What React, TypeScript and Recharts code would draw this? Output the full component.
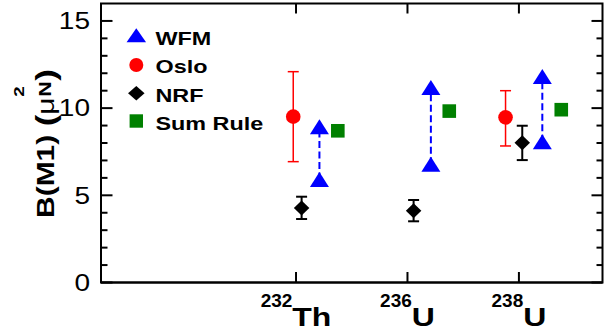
import React from 'react';
import {
  ScatterChart,
  Scatter,
  XAxis,
  YAxis,
  ErrorBar,
  ReferenceLine,
  Customized,
} from 'recharts';

// ---- data ----
const xDomain = [0.25, 4.75];
const yDomain = [0, 16];
const tickPositions = [2, 3, 4];
const tickMass = ['232', '236', '238'];
const tickSymbol = ['Th', 'U', 'U'];
const yTicks = [0, 1, 2, 3, 4, 5, 6, 7, 8, 9, 10, 11, 12, 13, 14, 15];
const yMajor = [0, 5, 10, 15];

const wfmX = [2.21, 3.21, 4.21];
const wfmLow = [5.9, 6.78, 8.07];
const wfmHigh = [8.93, 11.18, 11.82];

const osloX = [1.975, 3.88];
const osloY = [9.51, 9.47];
const osloLow = [6.93, 7.83];
const osloHigh = [12.09, 11.0];

const nrfX = [2.05, 3.055, 4.03];
const nrfY = [4.27, 4.12, 8.01];
const nrfLow = [3.64, 3.51, 7.02];
const nrfHigh = [4.92, 4.73, 8.99];

const sumX = [2.375, 3.375, 4.38];
const sumY = [8.7, 9.83, 9.91];

const legendNames = ['WFM', 'Oslo', 'NRF', 'Sum Rule'];
const legendColors = ['#0000ff', '#ff0000', '#000000', '#008000'];

// ---- derived tables ----
const wfmData = wfmX.flatMap((x, i) => [
  { x, y: wfmLow[i] },
  { x, y: wfmHigh[i] },
]);
const osloData = osloX.map((x, i) => ({
  x,
  y: osloY[i],
  err: [osloY[i] - osloLow[i], osloHigh[i] - osloY[i]],
}));
const nrfData = nrfX.map((x, i) => ({
  x,
  y: nrfY[i],
  err: [nrfY[i] - nrfLow[i], nrfHigh[i] - nrfY[i]],
}));
const sumData = sumX.map((x, i) => ({ x, y: sumY[i] }));

// ---- layout ----
const W = 611;
const H = 333;
const MARGIN = { top: 3.5, right: 8.5, bottom: 0.5, left: 41 };
const Y_AXIS_W = 60;
const X_AXIS_H = 50;
const PLOT_X = MARGIN.left + Y_AXIS_W;
const PLOT_Y = MARGIN.top;
const PLOT_W = W - MARGIN.left - MARGIN.right - Y_AXIS_W;
const PLOT_H = H - MARGIN.top - MARGIN.bottom - X_AXIS_H;

const FONT = '"Liberation Sans", Arial, Helvetica, sans-serif';

const CHAR_W: Record<string, number> = { T: 0.611, h: 0.611, U: 0.722 };
const textW = (s: string, size: number, scale: number) =>
  s.split('').reduce((a, c) => a + (CHAR_W[c] ?? 0.556), 0) * size * scale;

// ---- marker shapes ----
const triPath = (cx: number, cy: number, w = 19, h = 15) =>
  `${cx},${cy - h / 2} ${cx + w / 2},${cy + h / 2} ${cx - w / 2},${cy + h / 2}`;
const Tri = (p: any) => <polygon points={triPath(p.cx, p.cy)} fill="#0000ff" />;
const Circ = (p: any) => <circle cx={p.cx} cy={p.cy} r={7.3} fill="#ff0000" />;
const diaPath = (cx: number, cy: number, w = 15.5, h = 15) =>
  `${cx},${cy - h / 2} ${cx + w / 2},${cy} ${cx},${cy + h / 2} ${cx - w / 2},${cy}`;
const Dia = (p: any) => <polygon points={diaPath(p.cx, p.cy)} fill="#000" />;
const Sq = (p: any) => (
  <rect x={p.cx - 6.8} y={p.cy - 6.8} width={13.6} height={13.6} fill="#008000" />
);

// ---- axis ticks (left + mirrored right, bottom + mirrored top) ----
const LeftTick = (p: any) => {
  const { x, y, payload } = p;
  const v = payload.value;
  const major = yMajor.includes(v);
  const xr = x + PLOT_W;
  return (
    <g>
      <line x1={x} x2={x + (major ? 11.5 : 6.5)} y1={y} y2={y} stroke="#000" strokeWidth={2} />
      <line x1={xr} x2={xr - (major ? 11 : 6)} y1={y} y2={y} stroke="#000" strokeWidth={2} />
      {major && (
        <text
          transform={`translate(${x - 11},${y + 8.3}) scale(1.22,1)`}
          textAnchor="end"
          fontSize={23}
          fontFamily={FONT}
          fill="#000"
        >
          {v}
        </text>
      )}
    </g>
  );
};
const SUP_SIZE = 19;
const MAIN_SIZE = 25;
const MAIN_SCALE = 1.28;
const BottomTick = (p: any) => {
  const { x, y, index } = p;
  const supW = textW(tickMass[index], SUP_SIZE, 1);
  const mainW = textW(tickSymbol[index], MAIN_SIZE, MAIN_SCALE);
  const left = x - (supW + mainW) / 2;
  const yt = y - PLOT_H;
  return (
    <g>
      <line x1={x} x2={x} y1={y} y2={y - 10.5} stroke="#000" strokeWidth={2} />
      <line x1={x} x2={x} y1={yt} y2={yt + 10} stroke="#000" strokeWidth={2} />
      <text x={left} y={y + 24.2} fontSize={SUP_SIZE} fontFamily={FONT} fontWeight="bold" fill="#000">
        {tickMass[index]}
      </text>
      <text
        transform={`translate(${left + supW},${y + 43.2}) scale(${MAIN_SCALE},1)`}
        fontSize={MAIN_SIZE}
        fontFamily={FONT}
        fontWeight="bold"
        fill="#000"
      >
        {tickSymbol[index]}
      </text>
    </g>
  );
};

// ---- frame, y label, legend ----
const Extras = () => {
  const rowsY = [45, 73.3, 101.7, 130];
  const markY = [35.3, 65, 93.3, 121];
  const mx = 136.3;
  const markers = [
    <polygon key="m0" points={triPath(mx, markY[0], 19.5, 14)} fill={legendColors[0]} />,
    <circle key="m1" cx={mx} cy={markY[1]} r={7} fill={legendColors[1]} />,
    <polygon key="m2" points={diaPath(mx, markY[2], 16.5, 14.5)} fill={legendColors[2]} />,
    <rect key="m3" x={mx - 6.7} y={markY[3] - 6.7} width={13.4} height={13.4} fill={legendColors[3]} />,
  ];
  // local advances along the (rotated) label
  const openX = 3.055 * 24; // after "B(M1) "
  const muX = openX + 0.333 * 28;
  const scriptX = muX + 0.576 * 24 + 0.5;
  const closeX = scriptX + 0.722 * 17 + 0.5;
  return (
    <g>
      <rect x={PLOT_X} y={PLOT_Y} width={PLOT_W} height={PLOT_H} fill="none" stroke="#000" strokeWidth={2} />
      <g transform="translate(53.5,218) rotate(-90) scale(1.25,1)" fontFamily={FONT} fill="#000">
        <text x={0} y={0} fontWeight="bold" fontSize={24}>
          B(M1)
        </text>
        <text x={openX} y={1} fontWeight="bold" fontSize={28}>
          (
        </text>
        <text x={muX} y={0} fontSize={24}>
          μ
        </text>
        <text x={scriptX} y={-30} fontWeight="bold" fontSize={15}>
          2
        </text>
        <text x={scriptX} y={-3} fontWeight="bold" fontSize={17}>
          N
        </text>
        <text x={closeX} y={1} fontWeight="bold" fontSize={28}>
          )
        </text>
      </g>
      {legendNames.map((n, i) => (
        <g key={n}>
          {markers[i]}
          <text
            transform={`translate(155.5,${rowsY[i]}) scale(1.23,1)`}
            fontFamily={FONT}
            fontWeight="bold"
            fontSize={19}
            fill="#000"
          >
            {n}
          </text>
        </g>
      ))}
    </g>
  );
};

export default function App() {
  return (
    <div style={{ position: 'absolute', left: 0, top: 0, background: '#fff' }}>
      <ScatterChart width={W} height={H} margin={MARGIN}>
        <XAxis
          dataKey="x"
          type="number"
          domain={xDomain}
          ticks={tickPositions}
          interval={0}
          height={X_AXIS_H}
          axisLine={{ stroke: '#000', strokeWidth: 2 }}
          tickLine={false}
          tickSize={0}
          tickMargin={0}
          tick={<BottomTick />}
        />
        <YAxis
          dataKey="y"
          type="number"
          domain={yDomain}
          ticks={yTicks}
          interval={0}
          width={Y_AXIS_W}
          axisLine={{ stroke: '#000', strokeWidth: 2 }}
          tickLine={false}
          tickSize={0}
          tickMargin={0}
          tick={<LeftTick />}
        />
        {wfmX.map((x, i) => (
          <ReferenceLine
            key={`d${i}`}
            segment={[
              { x, y: wfmLow[i] },
              { x, y: wfmHigh[i] },
            ]}
            stroke="#0000ff"
            strokeWidth={2}
            strokeDasharray="7 3.5"
          />
        ))}
        <Scatter data={osloData} shape={<Circ />} isAnimationActive={false}>
          <ErrorBar dataKey="err" direction="y" stroke="#ff0000" strokeWidth={1.5} width={5.5} />
        </Scatter>
        <Scatter data={nrfData} shape={<Dia />} isAnimationActive={false}>
          <ErrorBar dataKey="err" direction="y" stroke="#000" strokeWidth={2} width={5.5} />
        </Scatter>
        <Scatter data={wfmData} shape={<Tri />} isAnimationActive={false} />
        <Scatter data={sumData} shape={<Sq />} isAnimationActive={false} />
        <Customized component={Extras} />
      </ScatterChart>
    </div>
  );
}
